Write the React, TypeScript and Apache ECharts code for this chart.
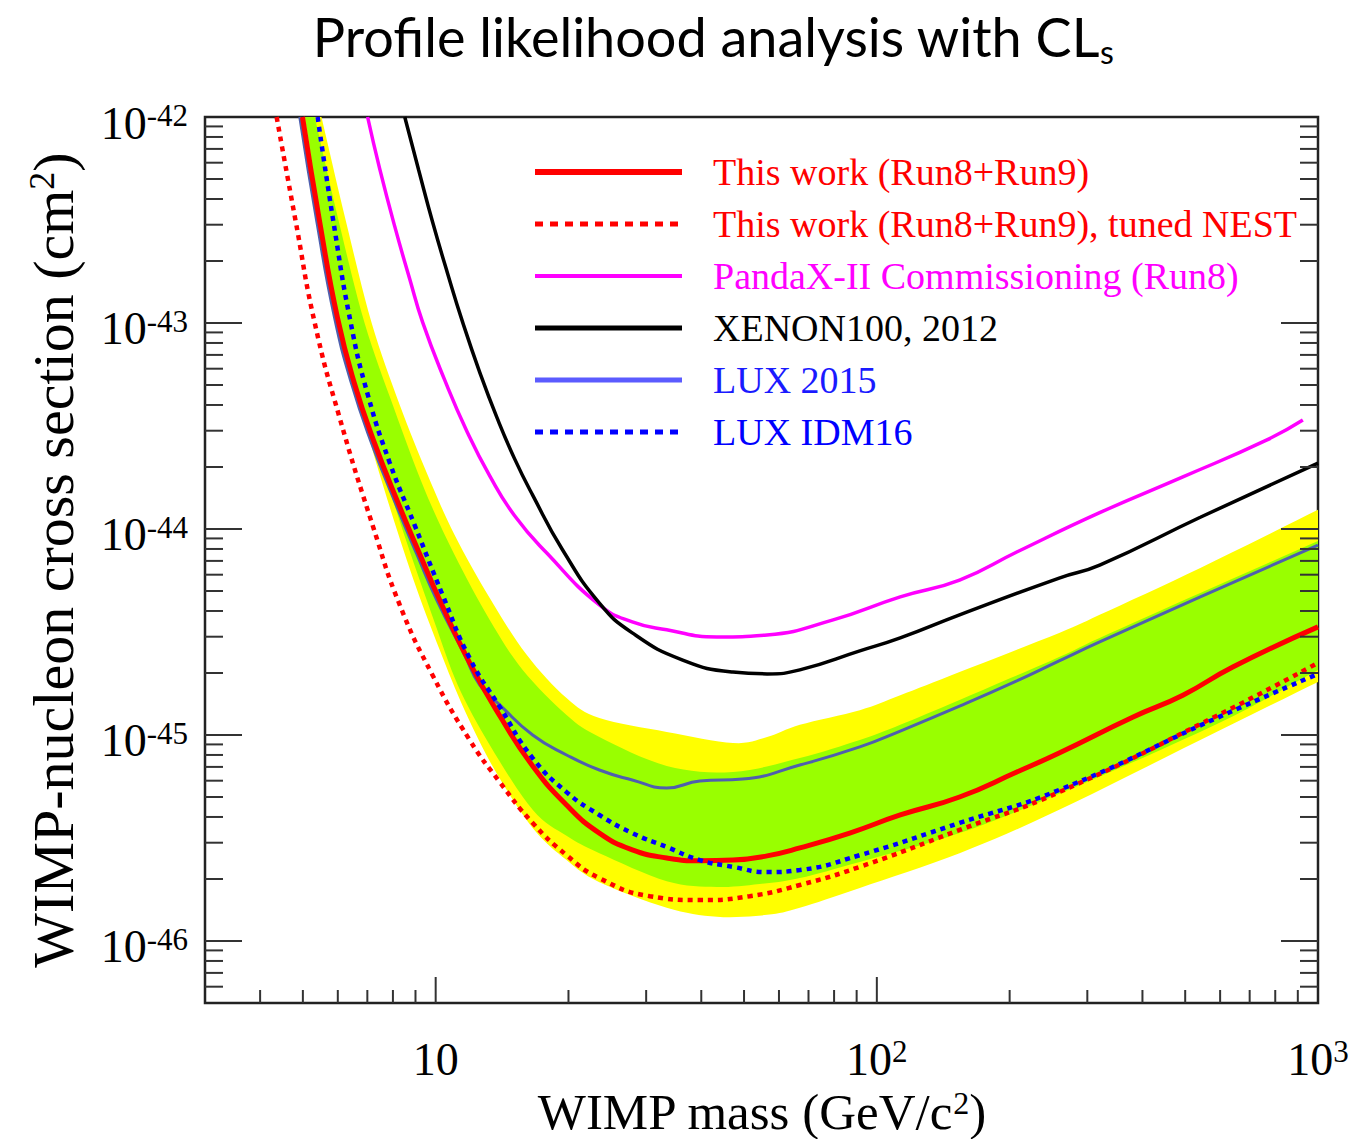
import React, { useEffect, useRef } from 'react';
import * as echarts from 'echarts';

const X_MIN = 3;
const X_MAX = 1000;
const Y_MIN = 5e-47;
const Y_MAX = 1e-42;
// ECharts' log scale rounds values below 1e-20 to zero, so the cross sections
// are plotted in units of 1e-48 cm^2 and the labels are shifted back.
const Y_UNIT_EXP = -48;
const toPlot = (s: number) => s * Math.pow(10, -Y_UNIT_EXP);

// [WIMP mass (GeV/c^2), cross section (cm^2)]
const thisWork = [[4.99,1e-42],[5.46,3.09e-43],[5.99,1.06e-43],[6.55,5.06e-44],[7.24,2.67e-44],[8.29,1.28e-44],[9.2,7.56e-45],[10.21,4.52e-45],[11.94,2.24e-45],[13.97,1.24e-45],[16.59,7.08e-46],[19.8,4.57e-46],[23.5,3.34e-46],[27.9,2.77e-46],[33.4,2.53e-46],[39.7,2.45e-46],[47.2,2.47e-46],[56.4,2.59e-46],[66.9,2.83e-46],[86.8,3.34e-46],[113,4.09e-46],[154,5.0e-46],[207.6,6.61e-46],[259,8.18e-46],[380,1.22e-45],[494,1.56e-45],[641,2.14e-45],[1000,3.35e-45]];
const tunedNest = [[4.36,1e-42],[4.81,3.16e-43],[5.32,1e-43],[6.05,3.5e-44],[7.24,1e-44],[8.29,4.28e-45],[9.84,1.95e-45],[11.94,9.46e-46],[13.97,5.91e-46],[16.59,3.74e-46],[19.8,2.61e-46],[23.5,2.02e-46],[30.6,1.65e-46],[39.7,1.58e-46],[51.5,1.65e-46],[66.9,1.87e-46],[91.5,2.29e-46],[154,3.46e-46],[259,5.28e-46],[590,1.24e-45],[1000,2.24e-45]];
const pandaxRun8 = [[7.01,1e-42],[7.46,5.65e-43],[8.07,2.96e-43],[8.73,1.64e-43],[9.34,1.01e-43],[10.48,5.29e-44],[11.76,2.99e-44],[13.26,1.81e-44],[15.1,1.16e-44],[17.86,7.64e-45],[23.5,4.28e-45],[27.9,3.54e-45],[33.4,3.24e-45],[43.4,2.99e-45],[56.4,3.06e-45],[79.6,3.62e-45],[113,4.68e-45],[154,5.65e-45],[207.6,7.73e-45],[320,1.2e-44],[494,1.79e-44],[764,2.7e-44],[924,3.38e-44]];
const xenon100 = [[8.51,1e-42],[9.15,5.53e-43],[9.84,3.09e-43],[10.65,1.73e-43],[11.51,1.01e-43],[12.58,5.78e-44],[13.75,3.5e-44],[15.1,2.19e-44],[16.59,1.46e-44],[19.4,7.91e-45],[23.5,4.37e-45],[27.9,3.13e-45],[36.3,2.31e-45],[47.2,2.02e-45],[56.4,1.98e-45],[66.9,2.07e-45],[91.5,2.56e-45],[113,2.96e-45],[154,3.83e-45],[259,5.78e-45],[320,6.68e-45],[541,1.14e-44],[1000,2.09e-44]];
const lux2015 = [[4.92,1e-42],[5.38,3.09e-43],[5.9,1.06e-43],[6.45,5.06e-44],[7.13,2.67e-44],[8.17,1.28e-44],[9.06,7.56e-45],[10.06,4.52e-45],[11.63,2.45e-45],[12.58,1.75e-45],[13.97,1.4e-45],[16.59,1e-45],[19.8,8e-46],[23.5,6.76e-46],[27.9,6.05e-46],[33.4,5.53e-46],[39.7,5.98e-46],[49.6,6.11e-46],[66.9,7.15e-46],[91.5,8.75e-46],[113,1.045e-45],[154,1.38e-45],[207.6,1.83e-45],[259,2.29e-45],[320,2.83e-45],[541,4.68e-45],[1000,8.36e-45]];
const luxIdm16 = [[5.4,1e-42],[5.87,3.06e-43],[6.42,1e-43],[7.01,4.52e-44],[7.86,2.11e-44],[8.96,1.045e-44],[10.37,4.78e-45],[11.94,2.36e-45],[13.97,1.37e-45],[16.59,7.73e-46],[19.8,5.28e-46],[23.5,4.09e-46],[27.9,3.34e-46],[33.4,2.86e-46],[39.7,2.47e-46],[47.2,2.29e-46],[56.4,2.16e-46],[66.9,2.21e-46],[91.5,2.61e-46],[154,3.74e-46],[259,5.41e-46],[590,1.21e-45],[1000,1.98e-45]];

// sensitivity bands (2 sigma yellow, 1 sigma green)
const yellowHigh = [[5.51,1e-42],[6.25,3.16e-43],[7.16,1e-43],[8.29,4.0e-44],[9.59,1.83e-44],[11.04,9.35e-45],[13.26,4.62e-45],[16.08,2.45e-45],[19.8,1.51e-45],[23.5,1.21e-45],[33.4,1.035e-45],[47.2,9.14e-46],[56.4,9.78e-46],[66.9,1.12e-45],[91.5,1.32e-45],[113,1.56e-45],[154,2.02e-45],[259,3.13e-45],[320,3.83e-45],[541,6.47e-45],[1000,1.24e-44]];
const yellowLow = [[4.99,1e-42],[5.96,1e-43],[6.87,3.38e-44],[7.78,1.38e-44],[8.91,5.65e-45],[10.21,2.59e-45],[11.63,1.32e-45],[13.61,6.76e-46],[16.59,3.54e-46],[19.8,2.47e-46],[23.5,1.93e-46],[33.4,1.45e-46],[43.4,1.31e-46],[56.4,1.34e-46],[66.9,1.45e-46],[91.5,1.81e-46],[154,2.67e-46],[259,4.33e-46],[541,9.46e-46],[1000,1.81e-45]];
const greenHigh = [[5.32,1e-42],[6.02,3.16e-43],[6.9,1e-43],[8.07,3.78e-44],[9.44,1.55e-44],[11.04,7.48e-45],[13.26,3.62e-45],[15.75,2.07e-45],[19.8,1.25e-45],[23.5,9.78e-46],[33.4,7.08e-46],[47.2,6.61e-46],[66.9,7.73e-46],[91.5,9.46e-46],[113,1.12e-45],[154,1.48e-45],[259,2.39e-45],[320,2.96e-45],[541,4.89e-45],[1000,8.74e-45]];
const greenLow = [[5.05,1e-42],[6.05,1e-43],[7.62,1.93e-44],[8.64,8.36e-45],[9.9,3.62e-45],[11.22,1.75e-45],[13.26,8.94e-46],[16.59,4.33e-46],[19.8,3.24e-46],[23.5,2.67e-46],[33.4,1.95e-46],[43.4,1.83e-46],[54.2,1.89e-46],[66.9,2.02e-46],[91.5,2.42e-46],[154,3.34e-46],[259,5.18e-46],[590,1.13e-45],[1000,2.07e-45]];

// axis ticks
const xMajorTicks = [10, 100];
const xMinorTicks = [4, 5, 6, 7, 8, 9, 20, 30, 40, 50, 60, 70, 80, 90, 200, 300, 400, 500, 600, 700, 800, 900];
const yMajorTicks = [1e-46, 1e-45, 1e-44, 1e-43];
const yMinorMultipliers = [2, 3, 4, 5, 6, 7, 8, 9];
const yDecades = [1e-47, 1e-46, 1e-45, 1e-44, 1e-43];

const SERIF = "'Liberation Serif', 'DejaVu Serif', serif";

const toPlotPts = (arr: number[][]) => arr.map(([m, s]) => [m, toPlot(s)]);

const catmull = (pts: number[][], n = 8) => {
  const out: number[][] = [];
  for (let i = 0; i < pts.length - 1; i++) {
    const p0 = pts[Math.max(i - 1, 0)];
    const p1 = pts[i];
    const p2 = pts[i + 1];
    const p3 = pts[Math.min(i + 2, pts.length - 1)];
    for (let k = 0; k < n; k++) {
      const t = k / n, t2 = t * t, t3 = t2 * t;
      const f = (a: number, b: number, c: number, d: number) =>
        0.5 * (2 * b + (-a + c) * t + (2 * a - 5 * b + 4 * c - d) * t2 + (-a + 3 * b - 3 * c + d) * t3);
      out.push([f(p0[0], p1[0], p2[0], p3[0]), f(p0[1], p1[1], p2[1], p3[1])]);
    }
  }
  out.push(pts[pts.length - 1]);
  return out;
};

const bandRenderer = (upper: number[][], lower: number[][], color: string) => (params: any, api: any) => {
  const cs = params.coordSys;
  const clamp = (p: number[]) => [
    Math.min(Math.max(p[0], cs.x), cs.x + cs.width),
    Math.min(Math.max(p[1], cs.y), cs.y + cs.height),
  ];
  const up = catmull(toPlotPts(upper).map((p) => api.coord(p))).map(clamp);
  const lo = catmull(toPlotPts(lower).map((p) => api.coord(p))).map(clamp);
  return {
    type: 'polygon',
    shape: { points: [...up, ...lo.reverse()] },
    style: { fill: color, stroke: null },
    silent: true,
  };
};

const xLabel = (v: number) => {
  const e = Math.log10(v);
  const r = Math.round(e);
  if (Math.abs(e - r) > 1e-6) return '';
  if (r === 1) return '{b|10}';
  return `{b|10}{s|${r}}`;
};
const yLabel = (v: number) => {
  const e = Math.log10(v);
  const r = Math.round(e);
  if (Math.abs(e - r) > 1e-6) return '';
  return `{b|10}{s|${r + Y_UNIT_EXP}}`;
};

const labelRich = {
  b: { fontFamily: SERIF, fontSize: 46, lineHeight: 46, color: '#000' },
  s: { fontFamily: SERIF, fontSize: 31, lineHeight: 16, verticalAlign: 'top', color: '#000' },
};

export default function App() {
  const ref = useRef<HTMLDivElement>(null);
  useEffect(() => {
    document.body.style.margin = '0';
    if (!ref.current) return;
    const chart = echarts.init(ref.current, undefined, { renderer: 'svg' });

    const yMinP = toPlot(Y_MIN);
    const yMaxP = toPlot(Y_MAX);

    const xTickData = [
      ...xMinorTicks.map((v) => [v, yMinP, 0]),
      ...xMajorTicks.map((v) => [v, yMinP, 1]),
    ];
    const yMinor: number[] = [];
    yDecades.forEach((d) => yMinorMultipliers.forEach((m) => {
      const v = d * m;
      if (v > Y_MIN * 1.0001 && v < Y_MAX) yMinor.push(v);
    }));
    const yTickData = [
      ...yMinor.map((v) => [X_MIN, toPlot(v), 0]),
      ...yMajorTicks.map((v) => [X_MIN, toPlot(v), 1]),
    ];

    const lineSeries = (name: string, data: number[][], color: string, width: number, dashed: boolean) => ({
      type: 'line',
      name,
      data: toPlotPts(data),
      symbol: 'none',
      showSymbol: false,
      smooth: 0.5,
      clip: true,
      silent: true,
      itemStyle: { color },
      lineStyle: { color, width, type: dashed ? [5, 5] : 'solid' },
      z: 3,
    });

    chart.setOption({
      animation: false,
      backgroundColor: '#fff',
      title: {
        text: '{a|Profile likelihood analysis with CL}{s|s}',
        left: 713,
        top: 5,
        textAlign: 'center',
        padding: 0,
        textStyle: {
          fontWeight: 'normal',
          rich: {
            a: { fontFamily: 'Lato', fontWeight: 'normal', fontSize: 54, lineHeight: 62, color: '#000' },
            s: { fontFamily: 'Lato', fontWeight: 'normal', fontSize: 32, lineHeight: 16, verticalAlign: 'bottom', color: '#000' },
          },
        },
      },
      grid: {
        left: 205, right: 32, top: 117, bottom: 136,
        outerBoundsMode: 'none',
        containLabel: false,
        show: true, borderColor: '#222', borderWidth: 2.5, backgroundColor: 'transparent',
      },
      legend: {
        orient: 'vertical',
        left: 532,
        top: 152,
        padding: 0,
        itemWidth: 147,
        itemHeight: 14,
        itemGap: 12,
        selectedMode: false,
        itemStyle: { opacity: 0 },
        textStyle: { fontFamily: SERIF, fontSize: 38, lineHeight: 40, padding: [0, 0, 0, 26] },
        data: [
          { name: 'This work (Run8+Run9)', textStyle: { color: '#ff0000' }, lineStyle: { width: 6 } },
          { name: 'This work (Run8+Run9), tuned NEST', textStyle: { color: '#ff0000' }, lineStyle: { width: 5, type: [8, 7] } },
          { name: 'PandaX-II Commissioning (Run8)', textStyle: { color: '#ff00ff' }, lineStyle: { width: 4 } },
          { name: 'XENON100, 2012', textStyle: { color: '#000000' }, lineStyle: { width: 5 } },
          { name: 'LUX 2015', textStyle: { color: '#1a1aff' }, lineStyle: { width: 5, color: '#5b5bff' } },
          { name: 'LUX IDM16', textStyle: { color: '#0000ff' }, lineStyle: { width: 5, type: [8, 7] } },
        ],
      },
      xAxis: {
        type: 'log',
        logBase: 10,
        min: X_MIN,
        max: X_MAX,
        axisLine: { show: false },
        axisTick: { show: false },
        splitLine: { show: false },
        minorTick: { show: false },
        axisLabel: {
          margin: 33,
          showMinLabel: false,
          formatter: xLabel,
          rich: labelRich,
        },
        name: '{t|WIMP mass (GeV/c}{s|2}{t|)}',
        nameLocation: 'middle',
        nameGap: 78,
        nameTextStyle: {
          rich: {
            t: { fontFamily: SERIF, fontSize: 51, lineHeight: 50, color: '#000' },
            s: { fontFamily: SERIF, fontSize: 32, lineHeight: 16, verticalAlign: 'top', color: '#000' },
          },
        },
      },
      yAxis: {
        type: 'log',
        logBase: 10,
        min: yMinP,
        max: yMaxP,
        axisLine: { show: false },
        axisTick: { show: false },
        splitLine: { show: false },
        minorTick: { show: false },
        axisLabel: {
          margin: 17,
          showMinLabel: false,
          formatter: yLabel,
          rich: labelRich,
          padding: [12, 0, 0, 0],
        },
        name: '{t|WIMP-nucleon cross section (cm}{s|2}{t|)}',
        nameLocation: 'middle',
        nameRotate: 90,
        nameGap: 123,
        nameTextStyle: {
          rich: {
            t: { fontFamily: SERIF, fontSize: 58, lineHeight: 58, color: '#000' },
            s: { fontFamily: SERIF, fontSize: 36, lineHeight: 20, verticalAlign: 'top', color: '#000' },
          },
        },
      },
      series: [
        {
          type: 'custom', name: '2sigma', data: [[X_MIN, yMinP]], silent: true, z: 1,
          renderItem: bandRenderer(yellowHigh, yellowLow, '#ffff00'),
        },
        {
          type: 'custom', name: '1sigma', data: [[X_MIN, yMinP]], silent: true, z: 1,
          renderItem: bandRenderer(greenHigh, greenLow, '#99ff00'),
        },
        lineSeries('PandaX-II Commissioning (Run8)', pandaxRun8, '#ff00ff', 3.5, false),
        lineSeries('XENON100, 2012', xenon100, '#000000', 3.5, false),
        lineSeries('LUX 2015', lux2015, '#4f5fae', 3, false),
        lineSeries('This work (Run8+Run9)', thisWork, '#ff0000', 5, false),
        lineSeries('This work (Run8+Run9), tuned NEST', tunedNest, '#ff0000', 4.5, true),
        lineSeries('LUX IDM16', luxIdm16, '#0000ff', 4.5, true),
        {
          type: 'custom', name: 'xticks', data: xTickData, silent: true, z: 5,
          renderItem: (params: any, api: any) => {
            const v = api.value(0);
            const major = api.value(2) === 1;
            const p = api.coord([v, yMinP]);
            const len = major ? 26 : 13;
            return {
              type: 'line',
              shape: { x1: p[0], y1: p[1], x2: p[0], y2: p[1] - len },
              style: { stroke: '#333', lineWidth: 2 },
            };
          },
        },
        {
          type: 'custom', name: 'yticks', data: yTickData, silent: true, z: 5,
          renderItem: (params: any, api: any) => {
            const v = api.value(1);
            const major = api.value(2) === 1;
            const pl = api.coord([X_MIN, v]);
            const pr = api.coord([X_MAX, v]);
            const len = major ? 37 : 18;
            return {
              type: 'group',
              children: [
                { type: 'line', shape: { x1: pl[0], y1: pl[1], x2: pl[0] + len, y2: pl[1] }, style: { stroke: '#333', lineWidth: 2 } },
                { type: 'line', shape: { x1: pr[0], y1: pr[1], x2: pr[0] - len, y2: pr[1] }, style: { stroke: '#333', lineWidth: 2 } },
              ],
            };
          },
        },
      ],
    });
    return () => chart.dispose();
  }, []);
  return <div ref={ref} style={{ width: 1350, height: 1139 }} />;
}
